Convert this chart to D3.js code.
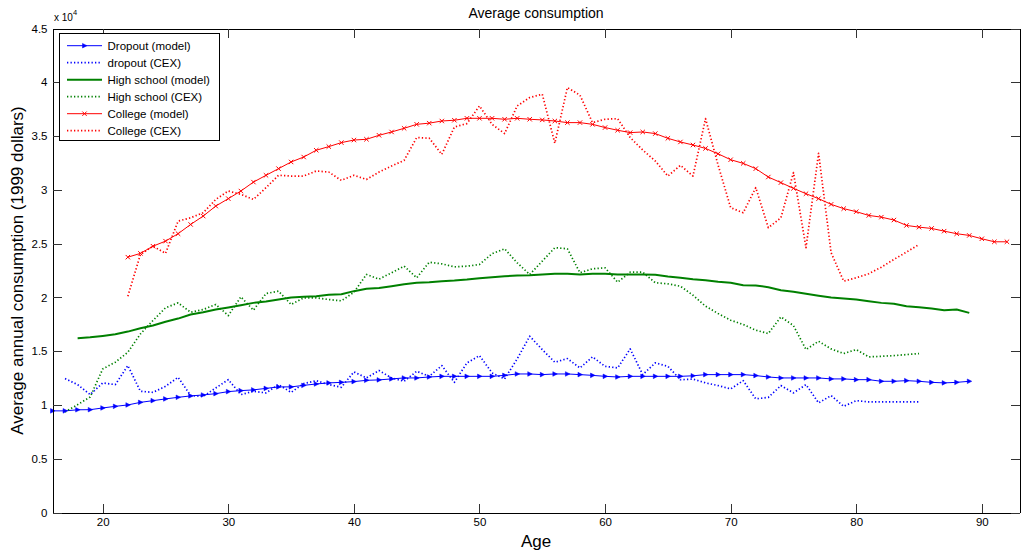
<!DOCTYPE html>
<html>
<head>
<meta charset="utf-8">
<script src="https://cdn.jsdelivr.net/npm/d3@7"></script>
<style>
  body { margin: 0; background: #fff; }
  svg text { font-family: "Liberation Sans", Arial, sans-serif; fill: #000; }
</style>
</head>
<body>
<svg id="chart" width="1021" height="558"></svg>
<script>

// first age of each series (one value per year after that)
var dropoutModelStart = 16;
var dropoutCexStart = 17;
var highSchoolModelStart = 18;
var highSchoolCexStart = 17;
var collegeModelStart = 22;
var collegeCexStart = 22;

var dropoutModel = [9450, 9450, 9550, 9560, 9720, 9870, 10000, 10240, 10400, 10560,
  10710, 10840, 10930, 11050, 11240, 11330, 11400, 11540, 11680, 11680,
  11820, 11950, 12050, 12100, 12170, 12290, 12330, 12420, 12510, 12510,
  12600, 12660, 12660, 12660, 12660, 12660, 12750, 12880, 12880, 12820,
  12880, 12880, 12820, 12750, 12660, 12600, 12660, 12660, 12660, 12660,
  12660, 12710, 12820, 12820, 12820, 12820, 12730, 12600, 12510, 12510,
  12510, 12510, 12420, 12420, 12350, 12350, 12200, 12200, 12260, 12200,
  12100, 12050, 12100, 12200];

var dropoutCex = [12450, 11890, 10960, 12050, 11890, 13660, 11270, 11170, 11730, 12570,
  10870, 10800, 11580, 12350, 10960, 11270, 11120, 11890, 11170, 11980,
  12260, 11890, 11640, 13070, 12510, 13200, 12510, 12200, 13130, 12660,
  13660, 12100, 13910, 14590, 12980, 12420, 14280, 16390, 15150, 13970,
  14310, 13440, 14470, 13590, 13440, 15210, 12820, 13910, 13590, 12350,
  12400, 12050, 11800, 11490, 12260, 10560, 10710, 11800, 11120, 11890,
  10190, 10870, 9870, 10400, 10280, 10280, 10280, 10280, 10280];

var highSchoolModel = [16200, 16290, 16420, 16570, 16820, 17130, 17380, 17730, 18030, 18410,
  18620, 18870, 19060, 19270, 19490, 19620, 19800, 19990, 20050, 20110,
  20240, 20300, 20580, 20800, 20870, 21040, 21230, 21360, 21410, 21510,
  21570, 21660, 21790, 21880, 21970, 22040, 22060, 22130, 22190, 22190,
  22130, 22190, 22190, 22130, 22130, 22130, 22100, 21940, 21820, 21690,
  21600, 21450, 21360, 21130, 21100, 20950, 20670, 20520, 20330, 20150,
  19990, 19900, 19800, 19640, 19490, 19400, 19180, 19090, 18960, 18810,
  18870, 18560];

var highSchoolCex = [9350, 10030, 10740, 13350, 13970, 14900, 16600, 17850, 19030, 19490,
  18620, 18870, 19340, 18310, 20050, 18810, 20360, 20580, 19340, 19960,
  19960, 19800, 19680, 20480, 22130, 21700, 22290, 22900, 21820, 23270,
  23120, 22840, 22900, 23060, 24060, 24520, 23220, 22130, 23370, 24620,
  24520, 22290, 22660, 22750, 21410, 22340, 22340, 21360, 21260, 21040,
  20200, 19180, 18500, 17880, 17480, 16950, 16640, 18190, 17380, 15150,
  15920, 15210, 14780, 15150, 14470, 14520, 14590, 14680, 14780];

var collegeModel = [23740, 24090, 24760, 25230, 25920, 26780, 27560, 28490, 29180, 29890,
  30720, 31350, 31970, 32590, 33050, 33680, 34020, 34390, 34630, 34700,
  35070, 35380, 35720, 36090, 36200, 36400, 36470, 36650, 36650, 36650,
  36560, 36650, 36560, 36500, 36400, 36250, 36250, 36090, 35790, 35540,
  35320, 35380, 35230, 34790, 34450, 34170, 33850, 33350, 32800, 32460,
  31970, 31190, 30670, 30140, 29640, 29180, 28650, 28250, 27970, 27620,
  27460, 27190, 26690, 26530, 26410, 26160, 25920, 25760, 25450, 25170,
  25170];

var collegeCex = [20110, 23990, 24760, 24090, 27090, 27400, 27870, 29110, 29890, 29580,
  29110, 30200, 31350, 31280, 31280, 31750, 31650, 30880, 31350, 30970,
  31650, 32210, 32740, 34860, 34800, 33300, 35840, 36160, 37800, 36090,
  35230, 37800, 38580, 38890, 34330, 39510, 38800, 36250, 36560, 36620,
  34860, 33700, 32680, 31280, 32280, 31280, 36620, 32300, 28340, 27870,
  30200, 26480, 27400, 31600, 24620, 33400, 24150, 21510, 21820, 22200,
  22810, 23530, 24210, 24920];

var xTicks = [20, 30, 40, 50, 60, 70, 80, 90];
var yTicks = [0, 5000, 10000, 15000, 20000, 25000, 30000, 35000, 40000, 45000];
var yTickLabels = ["0", "0.5", "1", "1.5", "2", "2.5", "3", "3.5", "4", "4.5"];

var seriesLabels = ["Dropout (model)", "dropout (CEX)", "High school (model)",
  "High school (CEX)", "College (model)", "College (CEX)"];

var W = 1021, H = 558;
var plotLeft = 52.5, plotRight = 1019.5, plotTop = 28.5, plotBottom = 512.5;

function toPoints(start, values) {
  return values.map(function(v, i) { return {age: start + i, value: v}; });
}

var dotted = "1.3,2.2";

var series = [
  {label: seriesLabels[0], color: "#0000ff", dash: null, width: 1, marker: "tri",
   points: toPoints(dropoutModelStart, dropoutModel)},
  {label: seriesLabels[1], color: "#0000ff", dash: dotted, width: 1.7, marker: null,
   points: toPoints(dropoutCexStart, dropoutCex)},
  {label: seriesLabels[2], color: "#008000", dash: null, width: 2, marker: null,
   points: toPoints(highSchoolModelStart, highSchoolModel)},
  {label: seriesLabels[3], color: "#008000", dash: dotted, width: 1.7, marker: null,
   points: toPoints(highSchoolCexStart, highSchoolCex)},
  {label: seriesLabels[4], color: "#ff0000", dash: null, width: 1, marker: "x",
   points: toPoints(collegeModelStart, collegeModel)},
  {label: seriesLabels[5], color: "#ff0000", dash: dotted, width: 1.7, marker: null,
   points: toPoints(collegeCexStart, collegeCex)}
];

var x = d3.scaleLinear().domain([16, 93]).range([plotLeft, plotRight]);
var y = d3.scaleLinear().domain([0, 45000]).range([plotBottom, plotTop]);

var svg = d3.select("#chart");

svg.append("rect").attr("width", W).attr("height", H).attr("fill", "#fff");

// data lines
var line = d3.line()
    .x(function(d) { return x(d.age); })
    .y(function(d) { return y(d.value); });

var plot = svg.append("g");

series.forEach(function(s) {
  plot.append("path")
      .datum(s.points)
      .attr("d", line)
      .attr("fill", "none")
      .attr("stroke", s.color)
      .attr("stroke-width", s.width)
      .attr("stroke-dasharray", s.dash)
      .attr("stroke-linejoin", "round");
});

var triPath = "M-2,-2.3L2.5,0L-2,2.3Z";
var xPath = "M-2.2,-2.2L2.2,2.2M-2.2,2.2L2.2,-2.2";

function drawMarkers(g, s, pts) {
  if (s.marker === "tri") {
    g.selectAll(null).data(pts).enter().append("path")
        .attr("d", triPath)
        .attr("transform", function(d) { return "translate(" + x(d.age) + "," + y(d.value) + ")"; })
        .attr("fill", s.color)
        .attr("stroke", s.color)
        .attr("stroke-width", 0.5);
  } else if (s.marker === "x") {
    g.selectAll(null).data(pts).enter().append("path")
        .attr("d", xPath)
        .attr("transform", function(d) { return "translate(" + x(d.age) + "," + y(d.value) + ")"; })
        .attr("fill", "none")
        .attr("stroke", s.color)
        .attr("stroke-width", 1);
  }
}

series.forEach(function(s) { drawMarkers(plot, s, s.points); });

// axes, matlab style: ticks inside, box all round
var axes = svg.append("g").attr("shape-rendering", "crispEdges");

var xAxis = d3.axisBottom(x).tickValues(xTicks).tickSizeInner(-9).tickSizeOuter(0).tickPadding(5);
var yAxis = d3.axisLeft(y).tickValues(yTicks).tickSizeInner(-9).tickSizeOuter(0).tickPadding(5)
    .tickFormat(function(d, i) { return yTickLabels[i]; });

var gx = axes.append("g").attr("transform", "translate(0," + plotBottom + ")").call(xAxis);
var gy = axes.append("g").attr("transform", "translate(" + plotLeft + ",0)").call(yAxis);
var gxTop = axes.append("g").attr("transform", "translate(0," + plotTop + ")")
    .call(d3.axisTop(x).tickValues(xTicks).tickSizeInner(-9).tickSizeOuter(0).tickFormat(""));
var gyRight = axes.append("g").attr("transform", "translate(" + plotRight + ",0)")
    .call(d3.axisRight(y).tickValues(yTicks).tickSizeInner(-9).tickSizeOuter(0).tickFormat(""));

[gx, gy, gxTop, gyRight].forEach(function(g) {
  g.selectAll(".domain").attr("stroke", "#000").attr("stroke-width", 1);
  g.selectAll(".tick line").attr("stroke", "#333").attr("stroke-width", 1);
  g.selectAll("text").attr("font-size", 11.5).attr("font-family", "Liberation Sans, Arial, sans-serif").attr("fill", "#000");
});

// exponent label
var expo = svg.append("text").attr("x", 54).attr("y", 21).attr("font-size", 10);
expo.append("tspan").text("x 10");
expo.append("tspan").attr("dy", -6).attr("font-size", 7.5).text("4");

// title and axis labels
svg.append("text")
    .attr("x", (plotLeft + plotRight) / 2).attr("y", 18)
    .attr("text-anchor", "middle")
    .attr("font-size", 14)
    .text("Average consumption");

svg.append("text")
    .attr("x", (plotLeft + plotRight) / 2).attr("y", 547)
    .attr("text-anchor", "middle")
    .attr("font-size", 17)
    .text("Age");

svg.append("text")
    .attr("transform", "translate(23," + ((plotTop + plotBottom) / 2) + ") rotate(-90)")
    .attr("text-anchor", "middle")
    .attr("font-size", 17)
    .text("Average annual consumption (1999 dollars)");

// legend
var legend = svg.append("g");
legend.append("rect")
    .attr("x", 59.5).attr("y", 33.5).attr("width", 160).attr("height", 107)
    .attr("fill", "#fff").attr("stroke", "#000").attr("stroke-width", 1)
    .attr("shape-rendering", "crispEdges");

series.forEach(function(s, i) {
  var ly = 45.7 + i * 17;
  var row = legend.append("g");
  row.append("line")
      .attr("x1", 67).attr("x2", 102).attr("y1", ly).attr("y2", ly)
      .attr("stroke", s.color)
      .attr("stroke-width", s.width)
      .attr("stroke-dasharray", s.dash);
  if (s.marker === "tri") {
    row.append("path").attr("d", triPath).attr("transform", "translate(84.5," + ly + ")")
        .attr("fill", s.color).attr("stroke", s.color).attr("stroke-width", 0.5);
  } else if (s.marker === "x") {
    row.append("path").attr("d", xPath).attr("transform", "translate(84.5," + ly + ")")
        .attr("fill", "none").attr("stroke", s.color).attr("stroke-width", 1);
  }
  row.append("text")
      .attr("x", 107.5).attr("y", ly).attr("dy", "0.35em")
      .attr("font-size", 11.5)
      .text(s.label);
});

</script>
</body>
</html>
